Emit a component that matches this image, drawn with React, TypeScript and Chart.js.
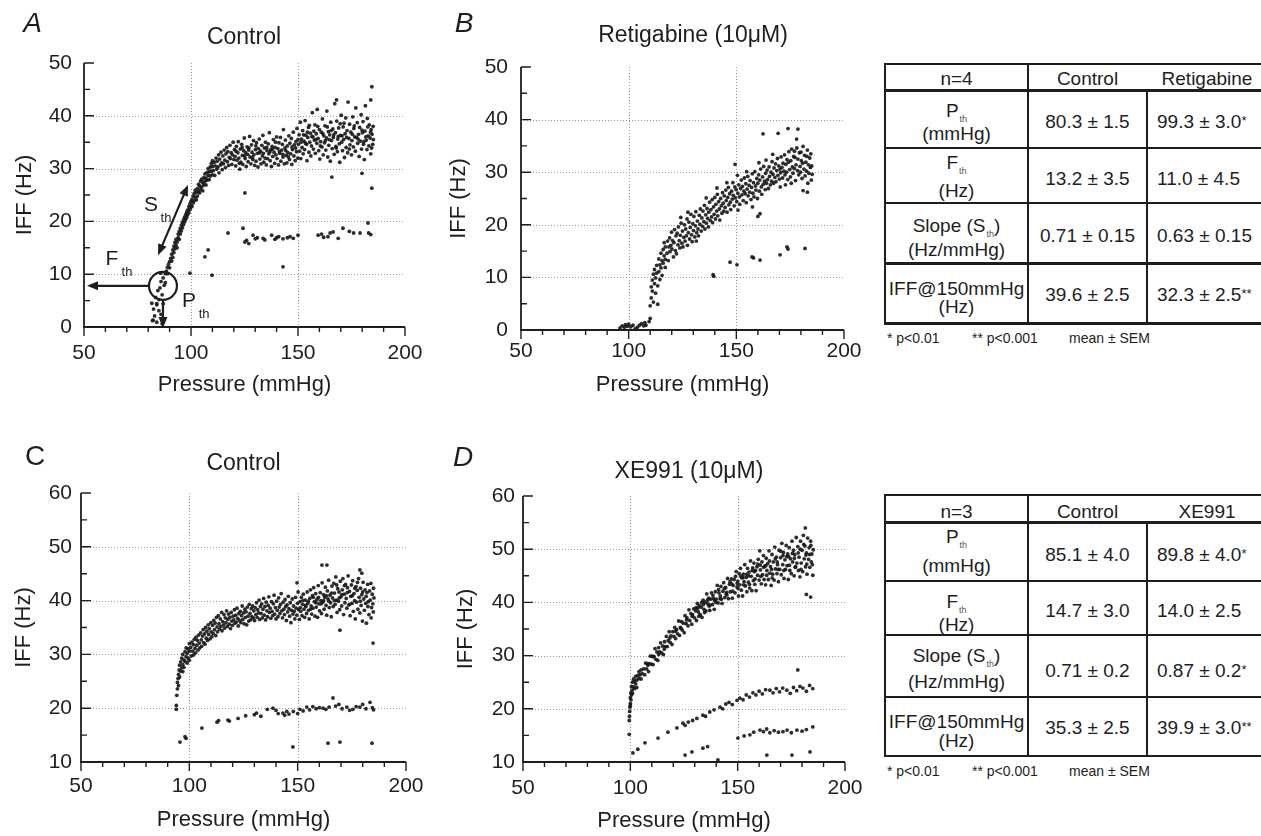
import React, { useEffect, useRef } from "react";
import { Chart, registerables } from "chart.js";

Chart.register(...registerables);

type Pt = [number, number];

const FONT = '"Liberation Sans", Arial, Helvetica, sans-serif';
const INK = "#1e1e1e";
Chart.defaults.font.family = FONT;
Chart.defaults.color = INK;

// ---------- axis tick values ----------
const X_TICKS = [50, 60, 70, 80, 90, 100, 110, 120, 130, 140, 150, 160, 170, 180, 190, 200];
const X_MAJOR = [50, 100, 150, 200];
const X_GRID = [100, 150];
const Y_TICKS_AB = [0, 5, 10, 15, 20, 25, 30, 35, 40, 45, 50];
const Y_GRID_AB = [10, 20, 30, 40];
const Y_TICKS_CD = [10, 15, 20, 25, 30, 35, 40, 45, 50, 55, 60];
const Y_GRID_CD = [20, 30, 40, 50];

// ---------- Panel A : Control ----------
const aOnset: Pt[] = [
  [82, 1.2], [82.5, 3.4], [83, 2.1], [83.5, 5.6], [84, 0.9], [84, 4.2], [84.5, 6.9], [85, 3.1], [85, 5.2], [85.5, 7.4],
  [86, 2.4], [86, 8.6], [86.5, 6.1], [87, 9.3], [87, 4.4], [87.5, 7.9], [88, 10.1], [88, 8.4], [86.5, 0.6], [85.8, 10.2],
  [81.7, 4.5], [84, 4.4], [82.3, 1.3],
];
const aRamp: Pt[] = [
  [88.5, 10.6], [89, 11.3], [89, 10.1], [89.5, 11.9], [90, 12.4], [90, 11.2], [90.5, 13.0], [91, 12.5], [91, 13.8], [91.5, 13.2],
  [91.5, 14.6], [92, 14.1], [92, 15.3], [92.5, 14.8], [92.5, 16.0], [93, 15.5], [93, 16.6], [93.5, 16.1], [93.5, 15.0], [94, 16.9],
  [94, 17.6], [94.5, 16.6], [94.5, 18.1], [95, 17.6], [95, 18.7], [95.5, 18.2], [95.5, 19.3], [96, 18.8], [96, 19.8], [96.5, 19.4],
  [96.5, 20.3], [97, 19.9], [97, 20.8], [97.5, 20.4], [97.5, 21.3], [98, 20.8], [98, 21.8], [98.5, 21.3], [98.5, 22.2], [99, 21.7],
  [99, 22.8], [99.5, 22.3], [99.5, 23.3], [100, 22.7], [100, 23.8],
  [100.5, 22.9], [100.5, 24.2], [101, 23.5], [101, 24.8], [101.5, 23.9], [101.5, 25.3], [102, 24.6], [102, 25.9], [102.5, 24.1],
  [102.5, 25.5], [103, 26.2], [103, 24.8], [103.5, 25.6], [103.5, 27.0], [104, 25.4], [104, 26.7], [104.5, 26.0], [104.5, 27.6],
  [105, 26.5], [105, 28.0], [105.5, 25.8], [105.5, 27.3], [106, 28.3], [106, 26.9], [106.5, 27.6], [106.5, 29.0], [107, 28.2],
  [107, 26.9], [107.5, 29.3], [107.5, 27.8], [108, 28.7], [108, 30.0], [108.5, 27.9], [108.5, 29.4], [109, 30.3], [109, 28.6],
  [109.5, 29.5], [109.5, 31.0], [110, 28.8], [110, 30.4], [110, 31.5],
];
const aPlateau: Pt[] = [
  [110.4, 29.6], [110.8, 31.2], [111.1, 28.7], [111.3, 30.5], [111.7, 32.0], [112.0, 29.9], [112.2, 31.4], [112.6, 30.3],
  [112.9, 32.6], [113.1, 29.2], [113.4, 31.8], [113.8, 30.7], [114.0, 33.1], [114.3, 31.1], [114.6, 29.8], [114.9, 32.4],
  [115.2, 30.9], [115.5, 33.5], [115.8, 31.6], [116.1, 30.2], [116.3, 32.8], [116.7, 34.0], [117.0, 31.3], [117.2, 33.2],
  [117.6, 30.6], [117.9, 32.1], [118.2, 34.4], [118.4, 31.9], [118.8, 33.0], [119.1, 30.8], [119.3, 32.6], [119.7, 35.0],
  [120.0, 31.7], [120.3, 33.6], [120.6, 32.3], [120.9, 30.5], [121.2, 34.2], [121.5, 31.6], [121.9, 33.0], [122.1, 35.1],
  [122.4, 32.0], [122.8, 29.9], [123.0, 33.7], [123.3, 31.2], [123.7, 34.6], [124.0, 32.5], [124.2, 30.8], [124.6, 33.4],
  [124.9, 35.8], [125.3, 31.9], [125.5, 33.0], [125.8, 30.4], [126.2, 34.1], [126.5, 32.7], [126.7, 31.3], [127.1, 33.9],
  [127.4, 36.1], [127.6, 32.2], [128.0, 30.9], [128.3, 34.5], [128.5, 33.1], [128.9, 31.7], [129.2, 35.3], [129.4, 32.6],
  [129.8, 30.6], [130.1, 33.6], [130.4, 31.4], [130.6, 34.9], [131.0, 32.9], [131.3, 30.3], [131.5, 33.8], [131.9, 35.6],
  [132.2, 31.8], [132.5, 33.3], [132.7, 30.9], [133.1, 34.4], [133.4, 32.4], [133.6, 36.3], [134.0, 31.2], [134.3, 33.9],
  [134.6, 32.0], [134.8, 35.0], [135.2, 30.7], [135.5, 33.4], [135.7, 31.9], [136.1, 34.7], [136.4, 32.8], [136.6, 36.8],
  [137.0, 31.5], [137.3, 33.6], [137.6, 30.4], [137.9, 34.2], [138.2, 32.3], [138.5, 35.5], [138.8, 33.1], [139.1, 31.0],
  [139.3, 34.0], [139.7, 32.6], [140.0, 36.0], [140.2, 31.9], [140.6, 33.8], [140.9, 30.7], [141.1, 34.9], [141.5, 32.9],
  [141.8, 35.9], [142.0, 31.4], [142.4, 33.5], [142.7, 34.6], [143.0, 32.2], [143.2, 37.4], [143.6, 30.9], [143.9, 33.9],
  [144.1, 35.4], [144.5, 32.5], [144.8, 31.1], [145.0, 34.3], [145.3, 33.0], [145.7, 36.2], [146.0, 31.7], [146.2, 34.8],
  [146.6, 32.8], [146.9, 35.7], [147.1, 30.8], [147.4, 33.6], [147.8, 36.9], [148.1, 32.4], [148.3, 34.5], [148.7, 31.5],
  [149.0, 35.1], [149.3, 33.2], [149.5, 37.6], [149.9, 32.0], [150.2, 34.6], [150.5, 36.4], [150.8, 33.3], [151.1, 38.8],
  [121.0, 33.3], [122.6, 31.0], [123.9, 34.0], [125.1, 32.4], [126.9, 33.5], [128.7, 32.1], [130.3, 34.3], [132.0, 33.0],
  [133.8, 32.9], [135.4, 34.0], [136.9, 33.2], [138.0, 33.7], [139.5, 35.0], [141.3, 33.2], [142.9, 32.7], [144.3, 33.4],
  [145.5, 32.2], [147.2, 34.1], [148.9, 33.9], [150.0, 35.5],
  [151.3, 31.9], [151.6, 35.6], [151.9, 34.0], [152.2, 37.2], [152.4, 32.8], [152.8, 35.2], [153.1, 33.6], [153.3, 39.1],
  [153.7, 36.3], [154.0, 34.6], [154.2, 31.5], [154.6, 35.9], [154.9, 37.8], [155.1, 33.1], [155.5, 35.0], [155.8, 36.7],
  [156.0, 32.4], [156.3, 34.3], [156.7, 40.6], [157.0, 36.0], [157.2, 33.7], [157.6, 35.4], [157.9, 38.3], [158.1, 32.9],
  [158.5, 36.6], [158.8, 34.8], [159.0, 41.2], [159.4, 35.7], [159.7, 33.4], [160.0, 37.4], [160.2, 31.8], [160.6, 35.1],
  [160.9, 36.9], [161.2, 34.1], [161.4, 39.4], [161.8, 32.6], [162.1, 36.2], [162.4, 34.9], [162.6, 38.1], [163.0, 33.5],
  [163.3, 35.8], [163.5, 40.9], [163.9, 32.2], [164.2, 37.0], [164.4, 34.4], [164.8, 36.4], [165.1, 31.4], [165.3, 38.8],
  [165.7, 35.3], [166.0, 33.8], [166.3, 37.5], [166.5, 35.9], [166.9, 32.7], [167.2, 42.3], [167.5, 36.8], [167.7, 34.2],
  [168.1, 39.0], [168.4, 33.2], [168.6, 35.6], [169.0, 37.7], [169.3, 34.7], [169.5, 31.2], [169.9, 36.3], [170.2, 40.1],
  [170.4, 35.0], [170.8, 33.4], [171.1, 37.9], [171.3, 35.5], [171.7, 32.1], [172.0, 36.6], [172.3, 39.6], [172.5, 34.0],
  [172.9, 37.2], [173.2, 33.0], [173.4, 42.6], [173.8, 35.7], [174.1, 38.4], [174.3, 34.5], [174.7, 36.9], [175.0, 32.6],
  [175.2, 35.3], [175.6, 39.8], [175.9, 34.1], [176.1, 37.6], [176.5, 36.0], [176.8, 33.3], [177.0, 41.5], [177.4, 35.9],
  [177.7, 38.7], [177.9, 34.8], [178.3, 36.5], [178.6, 32.3], [178.8, 37.8], [179.2, 35.2], [179.5, 40.2], [179.7, 33.7],
  [180.1, 36.8], [180.4, 38.9], [180.6, 34.6], [181.0, 31.7], [181.3, 37.1], [181.5, 41.9], [181.9, 35.4], [182.2, 33.6],
  [182.4, 39.5], [182.8, 36.2], [183.1, 34.3], [183.3, 38.3], [183.7, 35.8], [184.0, 32.8], [184.2, 37.4], [184.6, 36.5],
  [184.9, 34.6], [185.1, 38.0], [185.2, 35.5], [184.4, 33.9], [183.9, 36.9], [182.6, 37.9], [181.7, 36.0], [180.8, 35.1],
  [179.9, 37.3], [178.1, 35.6], [176.3, 38.1], [175.4, 36.5], [174.0, 33.7], [172.7, 35.9], [171.5, 38.6], [170.6, 36.2],
  [169.7, 38.5], [168.8, 36.1], [167.9, 33.9], [166.7, 36.4], [165.5, 37.2], [164.6, 35.5], [163.7, 37.9], [162.8, 35.3],
  [161.6, 36.6], [160.4, 34.3], [159.2, 38.0], [158.3, 35.5], [157.4, 37.1], [156.5, 36.1], [155.3, 38.2], [154.4, 36.9],
  [153.5, 34.8], [152.6, 36.4], [151.4, 35.0],
];
const aLowBand: Pt[] = [
  [117.3, 17.8], [124.3, 18.7], [125.2, 16.1], [126, 16.4], [127, 15.8], [129, 17.4], [130, 16.7], [131, 16.9], [133.7, 16.8],
  [134.5, 16.5], [137.7, 17.4], [139.2, 16.6], [140, 16.9], [141, 17.1], [143, 16.7], [145, 16.9], [146.3, 17.1], [147.8, 16.8],
  [150, 17.4], [159.4, 17.4], [161, 17.6], [162, 17.0], [164, 17.1], [165, 17.8], [166.4, 18.0], [168.8, 16.8], [171, 18.7],
  [174, 18.1], [176, 17.8], [179, 17.8], [183, 17.8], [182.7, 19.7], [184, 17.5],
];
const aOutliers: Pt[] = [
  [106.5, 13.3], [108, 14.6], [109.8, 9.8], [99.5, 10.2], [125.2, 25.4], [143, 11.4], [184.5, 26.3], [165.8, 28.4],
  [179.9, 29.1], [184.5, 45.5], [184, 43.0], [168, 43.0],
];

// annotation anchors of panel A (data units)
const A_CIRCLE: Pt = [86.9, 7.8];
const A_S_ARROW: [Pt, Pt] = [[84.6, 13.6], [98.6, 26.9]];
const A_S_LABEL: Pt = [81.3, 23.0];
const A_F_LABEL: Pt = [63.1, 12.8];
const A_P_LABEL: Pt = [99.1, 4.8];

// ---------- Panel B : Retigabine ----------
const bNearZero: Pt[] = [
  [96, 0.4], [97, 0.8], [98, 0.5], [98.5, 1.0], [99.5, 0.7], [100, 1.1], [101, 0.6], [102, 0.9], [103, 0.2], [104, 0.5],
  [105, 0.9], [106, 1.2], [107, 0.8], [107.5, 1.4], [108, 0.9], [110, 2.2], [109.5, 1.6],
];
const bRise: Pt[] = [
  [110, 4.6], [110.5, 8.2], [110.5, 6.1], [111, 9.5], [111, 7.4], [111.5, 10.6], [111.5, 5.3], [112, 8.8], [112, 11.5],
  [112.5, 7.0], [112.5, 9.9], [113, 10.8], [113, 12.3], [113.5, 8.4], [113.5, 4.9], [114, 11.1], [114, 13.5], [114.5, 9.6],
  [114.5, 12.4], [115, 14.6], [115, 11.8], [115.5, 13.2], [115.5, 10.4], [116, 15.3], [116, 12.7], [116.5, 14.1], [116.5, 16.6],
  [117, 13.4], [117, 15.8], [117, 11.9],
];
const bCloud: Pt[] = [
  [117.8, 14.6], [118.1, 16.9], [118.4, 13.2], [118.7, 15.8], [119.0, 17.5], [119.2, 14.9], [119.6, 16.1], [119.9, 18.6],
  [120.1, 15.4], [120.4, 17.0], [120.8, 13.9], [121.0, 16.6], [121.3, 19.1], [121.7, 15.1], [122.0, 17.9], [122.2, 14.5],
  [122.5, 18.4], [122.9, 16.2], [123.1, 19.6], [123.5, 17.0], [123.8, 15.6], [124.0, 18.0], [124.4, 20.3], [124.7, 16.5],
  [125.0, 18.8], [125.2, 15.8], [125.6, 17.6], [125.9, 20.0], [126.2, 16.9], [126.5, 19.2], [126.8, 17.9], [127.1, 21.1],
  [127.3, 16.1], [127.7, 18.5], [128.0, 20.5], [128.3, 17.3], [128.6, 19.5], [128.9, 22.0], [129.2, 18.1], [129.5, 16.8],
  [129.8, 20.2], [130.1, 18.9], [130.3, 21.6], [130.7, 17.7], [131.0, 19.8], [131.2, 22.5], [131.6, 18.5], [131.9, 20.7],
  [132.2, 19.2], [132.4, 17.9], [132.8, 21.8], [133.1, 20.1], [133.3, 23.0], [133.7, 18.8], [134.0, 21.3], [134.3, 19.7],
  [134.5, 22.6], [134.9, 20.6], [135.2, 23.7], [135.4, 19.2], [135.8, 21.9], [136.1, 20.3], [136.4, 23.1], [136.7, 21.2],
  [137.0, 19.6], [137.2, 22.4], [137.6, 24.3], [137.9, 20.8], [138.2, 22.9], [138.5, 21.5], [138.8, 24.8], [139.0, 20.4],
  [139.4, 23.4], [139.7, 22.0], [140.0, 25.2], [140.3, 21.1], [140.5, 23.9], [140.9, 22.6], [141.2, 25.8], [141.4, 21.7],
  [141.8, 24.4], [142.1, 23.0], [142.3, 20.9], [142.7, 25.0], [143.0, 23.6], [143.3, 22.2], [143.6, 26.1], [143.9, 24.1],
  [144.2, 22.6], [144.4, 25.5], [144.8, 23.3], [145.1, 26.6], [145.3, 24.6], [145.7, 22.4], [146.0, 25.2], [146.3, 27.1],
  [146.5, 23.8], [146.9, 25.9], [147.2, 24.3], [147.4, 22.9], [147.8, 26.4], [148.1, 24.9], [148.4, 28.0], [148.6, 25.6],
  [149.0, 23.6], [149.3, 27.2], [149.5, 25.1], [149.9, 26.7], [150.2, 24.4], [150.5, 29.4], [150.7, 26.0], [151.1, 27.6],
  [151.4, 25.3], [151.6, 23.9], [152.0, 26.9], [152.3, 28.5], [152.6, 25.7], [152.8, 27.3], [153.2, 24.6], [153.5, 26.4],
  [153.7, 28.9], [154.1, 25.9], [154.4, 27.8], [154.6, 24.2], [155.0, 26.8], [155.3, 29.2], [155.5, 25.5], [155.9, 27.5],
  [156.2, 26.2], [156.4, 28.4], [156.8, 24.8], [157.1, 27.1], [157.4, 29.7], [157.7, 26.0], [158.0, 28.0], [158.2, 25.3],
  [158.6, 30.1], [158.9, 27.4], [159.1, 26.6], [159.5, 28.8], [159.8, 25.0], [160.0, 27.9], [160.4, 29.5], [160.7, 26.4],
  [160.9, 28.5], [161.3, 30.6], [161.6, 27.2], [161.8, 25.8], [162.2, 29.1], [162.5, 27.7], [162.7, 31.1], [163.1, 28.3],
  [163.4, 26.7], [163.6, 29.8], [164.0, 27.9], [164.3, 30.4], [164.5, 28.6], [164.9, 26.9], [165.2, 31.0], [165.4, 29.2],
  [165.8, 27.6], [166.1, 30.0], [166.4, 28.3], [166.6, 32.0], [167.0, 29.6], [167.3, 27.9], [167.5, 30.8], [167.9, 29.0],
  [168.2, 31.6], [168.4, 28.2], [168.8, 30.3], [169.1, 32.6], [169.3, 29.4], [169.7, 31.2], [170.0, 28.7], [170.3, 30.6],
  [170.6, 29.9], [170.8, 32.9], [171.2, 30.9], [171.5, 28.9], [171.7, 31.7], [172.1, 30.2], [172.4, 33.3], [172.6, 29.5],
  [173.0, 31.5], [173.3, 30.0], [173.5, 32.4], [173.9, 28.6], [174.2, 31.9], [174.4, 33.9], [174.8, 30.5], [175.1, 29.1],
  [175.3, 32.2], [175.7, 34.4], [176.0, 31.0], [176.3, 29.8], [176.6, 33.0], [176.9, 30.7], [177.2, 32.8], [177.5, 28.4],
  [177.7, 31.4], [178.1, 34.6], [178.4, 30.3], [178.6, 32.5], [179.0, 29.5], [179.3, 33.7], [179.6, 31.1], [179.8, 30.0],
  [180.2, 32.2], [180.5, 28.8], [180.8, 31.7], [181.0, 34.9], [181.4, 30.6], [181.7, 33.2], [181.9, 29.3], [182.3, 31.9],
  [182.6, 30.2], [182.8, 33.0], [183.2, 27.9], [183.5, 31.4], [183.7, 29.8], [184.1, 32.7], [184.4, 30.9], [184.6, 33.5],
  [185.0, 31.2], [185.2, 29.6], [184.8, 28.5], [183.0, 34.2], [180.0, 33.8], [177.0, 34.0], [175.5, 27.9], [172.8, 27.6],
  [170.4, 27.2], [166.9, 33.4], [163.8, 32.3], [160.5, 31.8], [157.5, 23.4], [154.8, 30.1], [150.8, 22.8], [145.6, 28.0],
  [141.0, 27.0], [136.0, 25.1], [131.4, 16.9], [127.5, 22.4], [124.2, 21.4],
];
const bOutliers: Pt[] = [
  [139.2, 10.5], [139.5, 10.2], [147.1, 12.9], [150.3, 12.4], [157.3, 13.9], [158, 13.7], [161, 13.3], [170.3, 14.3],
  [173.5, 15.8], [174, 15.4], [181.9, 15.5], [162.4, 37.3], [169.4, 37.4], [174, 38.3], [178.6, 38.2], [178, 36.3],
  [149.4, 31.5], [161, 22.1], [160, 21.6], [183, 26.2], [181, 26.5],
];

// ---------- Panel C : Control ----------
const cOnset: Pt[] = [
  [94, 19.8], [94, 20.5], [94.2, 22.4], [94.5, 23.6], [94.5, 24.8], [94.8, 25.5], [95, 26.3], [95, 24.2], [95.3, 27.1],
  [95.5, 25.8], [95.5, 28.0], [96, 26.9], [96, 28.6], [96.5, 27.5], [96.5, 29.3], [97, 28.1], [97, 30.0], [97, 26.8],
  [97.5, 29.0], [97.5, 27.6], [98, 30.5], [98, 28.7], [98.5, 29.6], [98.5, 31.2], [99, 30.2], [99, 28.4], [99.5, 31.0],
  [99.5, 29.3], [100, 30.6], [100, 32.0], [100, 28.9],
];
const cCloud: Pt[] = [
  [100.6, 31.3], [100.9, 29.7], [101.2, 32.3], [101.5, 30.6], [101.8, 31.8], [102.0, 29.9], [102.3, 32.8], [102.6, 31.1],
  [102.9, 30.3], [103.1, 33.2], [103.4, 31.7], [103.7, 32.6], [104.0, 30.8], [104.3, 33.6], [104.6, 32.1], [104.8, 31.2],
  [105.2, 34.0], [105.5, 32.7], [105.7, 31.5], [106.1, 33.4], [106.4, 34.6], [106.6, 32.2], [107.0, 33.8], [107.2, 31.9],
  [107.5, 35.0], [107.8, 33.0], [108.1, 34.3], [108.4, 32.6], [108.7, 35.5], [108.9, 33.7], [109.2, 34.8], [109.6, 32.9],
  [109.9, 35.9], [110.1, 34.2], [110.4, 33.3],
  [110.7, 35.4], [111.0, 33.9], [111.3, 36.3], [111.6, 34.6], [111.9, 35.8], [112.2, 33.5], [112.5, 36.9], [112.8, 35.1],
  [113.0, 34.2], [113.4, 37.2], [113.7, 35.7], [113.9, 34.7], [114.3, 36.6], [114.6, 35.2], [114.9, 37.8], [115.1, 34.4],
  [115.4, 36.1], [115.8, 35.5], [116.0, 37.4], [116.3, 34.9], [116.6, 36.8], [116.9, 35.9], [117.2, 38.1], [117.5, 35.2],
  [117.8, 36.5], [118.1, 37.5], [118.4, 35.6], [118.7, 36.9], [119.0, 34.8], [119.3, 37.8], [119.6, 36.2], [119.9, 35.4],
  [120.2, 37.1], [120.5, 36.4], [120.8, 38.3], [121.1, 35.8], [121.4, 37.3], [121.7, 36.0], [122.0, 38.6], [122.3, 36.7],
  [122.6, 35.3], [122.9, 37.6], [123.2, 36.3], [123.5, 38.0], [123.8, 35.9], [124.1, 37.2], [124.4, 39.0], [124.7, 36.5],
  [125.0, 37.7], [125.3, 35.7], [125.6, 38.4], [125.9, 36.9], [126.2, 37.9], [126.5, 35.5], [126.8, 38.8], [127.1, 37.1],
  [127.4, 36.2], [127.7, 39.3], [128.0, 37.6], [128.3, 36.4], [128.6, 38.5], [128.9, 37.0], [129.2, 39.0], [129.5, 36.8],
  [129.8, 38.1],
  [130.1, 36.3], [130.4, 38.7], [130.7, 37.4], [131.0, 39.6], [131.3, 36.9], [131.6, 38.3], [131.9, 37.7], [132.2, 40.1],
  [132.5, 36.5], [132.8, 38.9], [133.1, 37.6], [133.4, 39.4], [133.7, 36.8], [134.0, 38.4], [134.3, 40.4], [134.6, 37.3],
  [134.9, 38.9], [135.2, 36.4], [135.5, 39.7], [135.8, 38.1], [136.1, 37.0], [136.4, 39.1], [136.7, 40.7], [137.0, 37.8],
  [137.3, 38.6], [137.6, 36.7], [137.9, 39.8], [138.2, 38.0], [138.5, 37.2], [138.8, 39.4], [139.1, 41.0], [139.4, 37.5],
  [139.7, 38.7], [140.0, 36.6], [140.3, 39.9], [140.6, 38.2], [140.9, 37.0], [141.2, 40.5], [141.5, 38.8], [141.8, 37.6],
  [142.1, 39.3], [142.4, 41.3], [142.7, 38.1], [143.0, 36.8], [143.3, 39.7], [143.6, 38.4], [143.9, 37.4], [144.2, 40.2],
  [144.5, 38.9], [144.8, 36.3], [145.1, 39.2], [145.4, 37.9], [145.7, 40.8], [146.0, 38.5], [146.3, 37.1], [146.6, 39.6],
  [146.9, 35.9], [147.2, 38.2], [147.5, 40.3], [147.8, 37.5], [148.1, 39.0], [148.4, 38.0], [148.7, 36.6], [149.0, 40.6],
  [149.3, 38.6], [149.6, 37.3], [149.9, 39.5], [150.2, 41.6], [150.5, 38.3],
  [150.8, 36.5], [151.1, 39.8], [151.4, 38.0], [151.7, 40.6], [152.0, 37.2], [152.3, 39.3], [152.6, 41.2], [152.9, 38.4],
  [153.2, 36.9], [153.5, 40.1], [153.8, 38.9], [154.1, 37.6], [154.4, 41.6], [154.7, 39.5], [155.0, 38.2], [155.3, 36.6],
  [155.6, 40.4], [155.9, 42.0], [156.2, 39.0], [156.5, 37.5], [156.8, 40.9], [157.1, 38.6], [157.4, 42.4], [157.7, 39.8],
  [158.0, 37.1], [158.3, 41.3], [158.6, 38.8], [158.9, 40.2], [159.2, 36.9], [159.5, 42.8], [159.8, 39.4], [160.1, 38.1],
  [160.4, 41.5], [160.7, 40.0], [161.0, 37.6], [161.3, 43.3], [161.6, 39.7], [161.9, 41.1], [162.2, 38.4], [162.5, 40.6],
  [162.8, 42.5], [163.1, 39.1], [163.4, 37.3], [163.7, 41.8], [164.0, 40.3], [164.3, 43.8], [164.6, 38.7], [164.9, 41.0],
  [165.2, 39.6], [165.5, 37.0], [165.8, 42.7], [166.1, 40.5], [166.4, 38.9], [166.7, 43.2], [167.0, 41.4], [167.3, 39.3],
  [167.6, 44.4], [167.9, 40.1], [168.2, 37.8], [168.5, 42.2], [168.8, 39.9], [169.1, 41.6], [169.4, 38.3], [169.7, 43.6],
  [170.0, 40.7], [170.3, 39.0], [170.6, 42.0], [170.9, 44.1], [171.2, 37.4], [171.5, 41.2], [171.8, 39.6], [172.1, 43.0],
  [172.4, 40.4], [172.7, 38.6], [173.0, 42.4], [173.3, 44.6], [173.6, 39.2], [173.9, 41.7], [174.2, 37.2], [174.5, 40.8],
  [174.8, 42.9], [175.1, 39.5], [175.4, 43.7], [175.7, 38.0], [176.0, 41.3], [176.3, 40.0], [176.6, 36.6], [176.9, 42.6],
  [177.2, 39.7], [177.5, 41.9], [177.8, 38.4], [178.1, 44.1], [178.4, 40.6], [178.7, 37.7], [179.0, 42.3], [179.3, 39.1],
  [179.6, 41.1], [179.9, 36.2], [180.2, 43.4], [180.5, 40.3], [180.8, 38.2], [181.1, 42.0], [181.4, 39.5], [181.7, 35.8],
  [182.0, 41.5], [182.3, 43.0], [182.6, 39.8], [182.9, 37.4], [183.2, 41.8], [183.5, 40.1], [183.8, 43.2], [184.1, 38.7],
  [184.4, 41.2], [184.7, 39.4], [185.0, 42.3], [185.2, 40.5], [184.9, 37.9], [183.9, 36.8], [182.4, 38.9], [181.6, 40.8],
  [180.0, 41.6], [178.9, 39.9], [177.6, 43.4], [176.4, 42.3], [175.2, 40.9], [174.0, 39.3], [172.9, 41.5], [171.6, 42.8],
  [170.4, 41.1], [169.2, 40.5], [168.0, 42.9], [166.9, 40.0], [165.6, 41.4], [164.4, 39.9], [163.2, 40.9], [162.0, 40.0],
  [160.9, 39.4], [159.6, 40.6], [158.4, 39.6], [157.2, 40.6], [156.0, 38.4], [154.9, 39.9], [153.6, 39.1], [152.4, 40.0],
  [151.2, 38.7],
];
const cLowBand: Pt[] = [
  [95.7, 13.7], [98, 14.7], [98.5, 14.4], [105.8, 16.3], [112.8, 17.4], [113.5, 17.7], [117.8, 17.8], [118.5, 17.6],
  [122.5, 18.1], [126, 18.6], [130, 18.8], [131, 19.1], [133, 18.5], [136, 19.8], [138.6, 20.0], [140, 19.6], [141, 19.0],
  [143.2, 19.1], [144, 18.7], [145, 19.4], [146, 18.9], [148, 19.4], [150, 19.0], [151, 19.8], [152.5, 19.5], [154.2, 20.2],
  [155.5, 19.7], [157, 20.3], [158.5, 19.9], [160, 20.1], [161.7, 20.0], [163, 19.8], [164.5, 20.2], [166.3, 21.9],
  [167.5, 20.4], [169, 20.7], [170.5, 19.9], [172.7, 20.2], [174, 19.6], [175.5, 19.8], [177, 20.3], [178.7, 20.2],
  [180, 20.7], [181.5, 19.9], [183.4, 21.1], [184.5, 20.1], [185, 19.7],
];
const cOutliers: Pt[] = [
  [147.8, 12.8], [164, 13.5], [169.5, 13.7], [184.3, 13.5], [184.8, 32.1], [169.5, 34.5], [161.2, 46.6], [163.5, 46.6],
  [178.7, 45.7], [179.6, 45.1], [149.7, 43.3],
];

// ---------- Panel D : XE991 ----------
const dOnset: Pt[] = [
  [99.5, 15.2], [99.5, 17.8], [99.6, 18.6], [99.7, 19.5], [99.8, 20.3], [100, 21.0], [100, 22.1], [100, 20.6], [100.2, 23.0],
  [100.3, 21.7], [100.5, 24.2], [100.5, 22.6], [100.8, 23.5], [101, 25.0], [101, 22.9], [101.5, 24.1], [101.5, 25.6],
  [102, 23.8], [102, 25.2], [102.5, 24.7], [102.5, 26.1], [103, 25.4], [103, 24.0], [103.5, 26.3], [104, 25.7], [104, 27.0],
  [104.5, 26.4], [105, 25.6], [105, 27.3], [105.5, 26.6],
];
const dCloud: Pt[] = [
  [106.2, 27.5], [106.7, 26.4], [107.1, 28.6], [107.6, 27.5], [108.0, 28.5], [108.5, 27.0], [108.9, 28.5], [109.3, 29.9],
  [109.8, 28.4], [110.2, 29.9], [110.6, 28.3], [111.1, 29.8], [111.5, 31.3], [111.9, 29.3], [112.4, 30.7], [112.8, 29.1],
  [113.2, 31.5], [113.7, 30.7], [114.1, 32.4], [114.6, 30.5], [115.0, 31.8], [115.4, 30.2], [115.9, 32.6], [116.3, 31.7],
  [116.8, 33.6], [117.2, 31.7], [117.6, 32.8], [118.1, 34.5], [118.5, 32.5], [118.9, 33.7], [119.4, 32.1], [119.8, 34.5],
  [120.3, 33.6], [120.7, 35.3], [121.1, 33.2], [121.6, 34.9], [122.0, 34.1], [122.5, 36.5], [122.9, 33.8], [123.3, 35.3],
  [123.8, 36.4], [124.2, 34.8], [124.7, 36.1], [125.1, 34.3], [125.5, 37.5], [126.0, 36.0], [126.4, 37.1], [126.9, 35.6],
  [127.3, 38.6], [127.7, 36.6], [128.2, 37.9], [128.6, 35.9], [129.0, 37.7], [129.5, 38.8], [129.9, 37.1], [130.4, 38.4],
  [130.8, 36.6], [131.2, 39.8], [131.7, 38.2], [132.1, 39.4], [132.6, 37.7], [133.0, 39.1], [133.4, 37.2], [133.9, 40.4],
  [134.3, 38.7], [134.8, 40.0], [135.2, 38.4], [135.6, 41.6], [136.1, 39.7], [136.5, 40.8], [137.0, 38.5], [137.4, 40.6],
  [137.8, 41.8], [138.3, 39.6], [138.7, 40.7], [139.1, 38.7], [139.6, 42.0], [140.0, 40.6], [140.5, 43.2], [140.9, 39.9],
  [141.3, 41.8], [141.8, 40.7], [142.2, 43.0], [142.7, 39.8], [143.1, 42.1], [143.5, 43.7], [144.0, 40.9], [144.4, 42.8],
  [144.9, 41.9], [145.3, 44.5], [145.7, 40.7], [146.2, 43.4], [146.6, 42.0], [147.1, 44.4], [147.5, 40.8], [147.9, 43.2],
  [148.4, 44.3], [148.8, 41.8], [149.3, 45.8], [149.7, 42.9], [150.1, 44.0],
  [150.4, 41.2], [150.7, 45.4], [151.0, 43.3], [151.3, 46.4], [151.7, 42.3], [152.0, 44.6], [152.3, 41.2], [152.6, 45.3],
  [153.0, 43.9], [153.3, 47.1], [153.6, 43.1], [154.0, 44.7], [154.3, 42.0], [154.6, 46.4], [155.0, 43.8], [155.3, 45.7],
  [155.6, 42.7], [156.0, 47.8], [156.3, 44.9], [156.6, 42.2], [157.0, 46.5], [157.3, 44.1], [157.6, 47.4], [158.0, 43.4],
  [158.3, 46.0], [158.6, 42.2], [159.0, 46.7], [159.3, 45.1], [159.6, 48.1], [160.0, 44.2], [160.3, 49.7], [160.6, 46.1],
  [161.0, 43.5], [161.3, 47.6], [161.6, 45.2], [162.0, 48.8], [162.3, 44.3], [162.6, 46.8], [163.0, 43.3], [163.3, 48.3],
  [163.6, 46.0], [164.0, 47.3], [164.3, 44.3], [164.6, 49.7], [165.0, 45.5], [165.3, 46.7], [165.6, 43.2], [166.0, 49.0],
  [166.3, 45.3], [166.6, 47.6], [167.0, 44.2], [167.3, 50.4], [167.6, 46.3], [168.0, 48.5], [168.3, 45.4], [168.6, 47.1],
  [169.0, 43.9], [169.3, 49.8], [169.6, 46.2], [170.0, 48.4], [170.3, 45.2], [170.6, 51.1], [171.0, 47.1], [171.3, 49.4],
  [171.6, 44.5], [172.0, 48.0], [172.3, 46.2], [172.6, 50.7], [173.0, 46.9], [173.3, 49.1], [173.6, 44.3], [174.0, 50.3],
  [174.3, 46.0], [174.6, 48.2], [175.0, 45.4], [175.3, 51.5], [175.6, 47.6], [176.0, 49.8], [176.3, 45.0], [176.6, 49.0],
  [177.0, 46.7], [177.3, 52.2], [177.6, 47.4], [178.0, 50.5], [178.3, 46.0], [178.6, 48.5], [179.0, 44.8], [179.3, 51.5],
  [179.6, 47.4], [180.0, 49.8], [180.3, 45.8], [180.6, 52.6], [181.0, 48.2], [181.3, 50.6], [181.6, 46.7], [182.0, 49.3],
  [182.3, 45.3], [182.6, 52.1], [183.0, 48.1], [183.3, 50.3], [183.6, 46.6], [184.0, 51.5], [184.3, 47.6], [184.6, 49.1],
  [185.0, 45.1], [185.2, 49.9],
  [130.6, 39.0], [131.9, 37.4], [133.2, 40.0], [134.6, 38.1], [135.9, 40.4], [137.2, 39.5], [138.5, 41.3], [139.9, 40.0],
  [141.1, 42.4], [142.4, 40.6], [143.8, 42.6], [145.0, 41.4], [146.4, 43.9], [147.7, 42.1], [149.0, 44.9], [150.2, 42.6],
  [151.5, 44.9], [152.8, 43.3], [154.2, 45.3], [155.5, 43.4], [156.8, 46.0], [158.1, 44.4], [159.4, 47.2], [160.8, 44.9],
  [162.1, 46.6], [163.5, 45.1], [164.8, 47.8], [166.1, 44.6], [167.5, 48.2], [168.8, 46.2], [170.1, 49.6], [171.5, 46.0],
  [172.8, 48.6], [174.1, 47.0], [175.5, 49.2], [176.8, 46.6], [178.2, 49.3], [179.5, 46.2], [180.8, 50.9], [182.2, 47.2],
  [183.5, 49.0], [184.8, 47.1], [184.1, 50.7], [181.8, 48.9], [179.1, 50.0], [176.4, 48.3], [173.8, 48.6], [171.1, 48.8],
  [168.4, 47.6], [165.8, 46.2], [163.1, 46.9], [160.5, 47.0], [157.8, 45.8], [155.1, 45.0], [152.5, 44.7], [149.8, 43.6],
  [147.2, 43.5], [144.6, 41.6], [141.9, 41.2], [139.3, 40.3], [136.7, 39.3], [134.0, 39.6], [131.4, 38.9], [128.8, 37.4],
  [126.2, 36.7], [123.6, 35.1], [121.0, 34.6], [118.4, 33.3], [115.8, 31.2], [113.2, 30.2], [110.6, 29.8], [108.2, 28.2],
  [181.5, 54.0], [182.0, 41.5], [184.0, 41.0],
];
const dBand2: Pt[] = [
  [101.2, 11.7], [103.5, 12.4], [106.8, 13.6], [112.9, 14.5], [117.5, 15.6], [121.7, 16.4], [124.5, 17.3], [125.5, 16.9],
  [127, 17.5], [129, 17.8], [131, 18.2], [133.8, 18.8], [135, 18.6], [137, 19.4], [139, 19.8], [141.8, 20.3], [143, 20.0],
  [144.5, 20.9], [146, 21.2], [147.5, 20.8], [149.7, 21.6], [151, 22.0], [152.5, 21.7], [154, 22.6], [155.5, 22.2],
  [157.1, 23.0], [158.5, 22.6], [160, 23.3], [161.5, 22.8], [163, 23.6], [165, 23.5], [166.5, 23.0], [168, 23.8],
  [169.5, 23.2], [171, 23.9], [172.9, 23.5], [174.5, 22.9], [176, 24.0], [177.5, 23.4], [179, 24.2], [180.4, 23.9],
  [182, 23.3], [183.5, 24.4], [185, 23.8], [178, 27.3],
];
const dBand3: Pt[] = [
  [150.1, 14.5], [153, 14.9], [155.7, 15.1], [157.5, 15.6], [160.4, 16.0], [162, 15.7], [163.5, 16.2], [165, 15.5],
  [167, 15.9], [169, 15.6], [171.1, 15.7], [173, 16.0], [175, 15.5], [177.6, 16.0], [180, 15.8], [182, 16.1], [185, 16.6],
];
const dBottom: Pt[] = [
  [125.5, 11.3], [128.7, 11.9], [133.8, 12.6], [136, 12.9], [140.8, 10.4], [163.6, 11.3], [175.3, 11.3], [183.7, 11.9],
];

// ---------- tables ----------
const T1_HEADER = ["n=4", "Control", "Retigabine"];
const T1_CONTROL = ["80.3 ± 1.5", "13.2 ± 3.5", "0.71 ± 0.15", "39.6 ± 2.5"];
const T1_DRUG = ["99.3 ± 3.0", "11.0 ± 4.5", "0.63 ± 0.15", "32.3 ± 2.5"];
const T1_SIG = ["*", "", "", "**"];
const T2_HEADER = ["n=3", "Control", "XE991"];
const T2_CONTROL = ["85.1 ± 4.0", "14.7 ± 3.0", "0.71 ± 0.2", "35.3 ± 2.5"];
const T2_DRUG = ["89.8 ± 4.0", "14.0 ± 2.5", "0.87 ± 0.2", "39.9 ± 3.0"];
const T2_SIG = ["*", "", "*", "**"];
const FOOTNOTES = ["* p<0.01", "** p<0.001", "mean ± SEM"];

// ---------- chart helpers ----------
type PanelCfg = {
  left: number; top: number; width: number; height: number;
  yMin: number; yMax: number; yTicks: number[]; yGrid: number[];
  padTop: number; padRight: number; yW: number; xH: number;
  xTickPad: number; yTickPad: number; xTitlePad: number; yTitlePad: number;
  series: Pt[][]; annotate?: boolean;
};

function head(ctx: CanvasRenderingContext2D, tx: number, ty: number, dx: number, dy: number) {
  const n = Math.hypot(dx, dy);
  const ux = dx / n, uy = dy / n;
  const len = 11, half = 4.5;
  const bx = tx - ux * len, by = ty - uy * len;
  ctx.beginPath();
  ctx.moveTo(tx, ty);
  ctx.lineTo(bx - uy * half, by + ux * half);
  ctx.lineTo(bx + uy * half, by - ux * half);
  ctx.closePath();
  ctx.fill();
}

function decorPlugin(cfg: PanelCfg) {
  return {
    id: "decor",
    beforeDatasetsDraw(chart: any) {
      const { ctx, chartArea: a } = chart;
      const xs = chart.scales.x, ys = chart.scales.y;
      ctx.save();
      ctx.strokeStyle = "#9a9a9a";
      ctx.lineWidth = 1;
      ctx.setLineDash([1, 2]);
      ctx.beginPath();
      for (const v of X_GRID) {
        const px = Math.round(xs.getPixelForValue(v)) + 0.5;
        ctx.moveTo(px, a.top);
        ctx.lineTo(px, a.bottom);
      }
      for (const v of cfg.yGrid) {
        const py = Math.round(ys.getPixelForValue(v)) + 0.5;
        ctx.moveTo(a.left, py);
        ctx.lineTo(a.right, py);
      }
      ctx.stroke();
      ctx.restore();
    },
    afterDraw(chart: any) {
      const { ctx, chartArea: a } = chart;
      const xs = chart.scales.x, ys = chart.scales.y;
      ctx.save();
      ctx.strokeStyle = INK;
      ctx.fillStyle = INK;
      ctx.lineWidth = 1.8;
      ctx.beginPath();
      ctx.moveTo(a.left, a.top);
      ctx.lineTo(a.left, a.bottom);
      ctx.lineTo(a.right, a.bottom);
      ctx.stroke();
      ctx.lineWidth = 1.4;
      ctx.beginPath();
      for (const v of X_TICKS) {
        const px = xs.getPixelForValue(v);
        const len = X_MAJOR.includes(v) ? 9 : 5;
        ctx.moveTo(px, a.bottom);
        ctx.lineTo(px, a.bottom + len);
      }
      for (const v of cfg.yTicks) {
        const py = ys.getPixelForValue(v);
        const len = v % 10 === 0 ? 10 : 6;
        ctx.moveTo(a.left, py);
        ctx.lineTo(a.left + len, py);
      }
      ctx.stroke();

      if (cfg.annotate) {
        const cx = xs.getPixelForValue(A_CIRCLE[0]);
        const cy = ys.getPixelForValue(A_CIRCLE[1]);
        const r = 14;
        ctx.lineWidth = 2.2;
        ctx.beginPath();
        ctx.arc(cx, cy, r, 0, Math.PI * 2);
        ctx.stroke();
        const fx = xs.getPixelForValue(50) + 3;
        ctx.beginPath();
        ctx.moveTo(cx - r, cy);
        ctx.lineTo(fx + 8, cy);
        ctx.stroke();
        head(ctx, fx, cy, -1, 0);
        const py0 = ys.getPixelForValue(0) + 1;
        ctx.beginPath();
        ctx.moveTo(cx, cy + r);
        ctx.lineTo(cx, py0 - 8);
        ctx.stroke();
        head(ctx, cx, py0, 0, 1);
        const x1 = xs.getPixelForValue(A_S_ARROW[0][0]), y1 = ys.getPixelForValue(A_S_ARROW[0][1]);
        const x2 = xs.getPixelForValue(A_S_ARROW[1][0]), y2 = ys.getPixelForValue(A_S_ARROW[1][1]);
        const dx = x2 - x1, dy = y2 - y1, n = Math.hypot(dx, dy);
        ctx.beginPath();
        ctx.moveTo(x1 + (dx / n) * 8, y1 + (dy / n) * 8);
        ctx.lineTo(x2 - (dx / n) * 8, y2 - (dy / n) * 8);
        ctx.stroke();
        head(ctx, x2, y2, dx, dy);
        head(ctx, x1, y1, -dx, -dy);
        const labels: [string, Pt][] = [["S", A_S_LABEL], ["F", A_F_LABEL], ["P", A_P_LABEL]];
        ctx.textAlign = "center";
        ctx.textBaseline = "middle";
        for (const [t, p] of labels) {
          const lx = xs.getPixelForValue(p[0]), ly = ys.getPixelForValue(p[1]);
          ctx.font = `21px ${FONT}`;
          ctx.fillText(t, lx, ly);
          ctx.font = `13px ${FONT}`;
          ctx.fillText("th", lx + 15, ly + 13);
        }
      }
      ctx.restore();
    },
  };
}

function ScatterPanel({ cfg }: { cfg: PanelCfg }) {
  const ref = useRef<HTMLCanvasElement | null>(null);
  useEffect(() => {
    if (!ref.current) return;
    const chart = new Chart(ref.current, {
      type: "scatter",
      data: {
        datasets: cfg.series.map((pts) => ({
          data: pts.map(([x, y]) => ({ x, y })),
          backgroundColor: "rgba(22,22,22,0.9)",
          borderWidth: 0,
          pointRadius: 1.9,
          pointHoverRadius: 1.9,
        })),
      },
      options: {
        responsive: false,
        animation: false,
        events: [],
        layout: { padding: { left: 0, top: cfg.padTop, right: cfg.padRight, bottom: 0 } },
        plugins: { legend: { display: false }, tooltip: { enabled: false } },
        scales: {
          x: {
            type: "linear",
            min: 50,
            max: 200,
            afterFit: (s: any) => { s.height = cfg.xH; },
            ticks: { stepSize: 50, padding: cfg.xTickPad, color: INK, font: { family: FONT, size: 21 }, maxRotation: 0, autoSkip: false },
            grid: { display: false, drawTicks: false },
            border: { display: false },
            title: { display: true, text: "Pressure (mmHg)", color: INK, font: { family: FONT, size: 22 }, padding: { top: 0, bottom: cfg.xTitlePad } },
          },
          y: {
            type: "linear",
            min: cfg.yMin,
            max: cfg.yMax,
            afterFit: (s: any) => { s.width = cfg.yW; },
            ticks: { stepSize: 10, padding: cfg.yTickPad, color: INK, font: { family: FONT, size: 21 } },
            grid: { display: false, drawTicks: false },
            border: { display: false },
            title: { display: true, text: "IFF (Hz)", color: INK, font: { family: FONT, size: 22 }, padding: { top: cfg.yTitlePad, bottom: 0 } },
          },
        },
      },
      plugins: [decorPlugin(cfg)],
    } as any);
    return () => chart.destroy();
  }, [cfg]);
  return (
    <canvas
      ref={ref}
      width={cfg.width}
      height={cfg.height}
      style={{ position: "absolute", left: cfg.left, top: cfg.top, width: cfg.width, height: cfg.height }}
    />
  );
}

const PANEL_A: PanelCfg = {
  left: 0, top: 0, width: 440, height: 400, yMin: 0, yMax: 50, yTicks: Y_TICKS_AB, yGrid: Y_GRID_AB,
  padTop: 63, padRight: 35, yW: 84, xH: 73, xTickPad: 14, yTickPad: 12, xTitlePad: 2, yTitlePad: 12,
  series: [aOnset, aRamp, aPlateau, aLowBand, aOutliers], annotate: true,
};
const PANEL_B: PanelCfg = {
  left: 437, top: 0, width: 440, height: 400, yMin: 0, yMax: 50, yTicks: Y_TICKS_AB, yGrid: Y_GRID_AB,
  padTop: 67, padRight: 33, yW: 84, xH: 70, xTickPad: 9, yTickPad: 13, xTitlePad: 2, yTitlePad: 9,
  series: [bNearZero, bRise, bCloud, bOutliers],
};
const PANEL_C: PanelCfg = {
  left: 0, top: 420, width: 440, height: 414, yMin: 10, yMax: 60, yTicks: Y_TICKS_CD, yGrid: Y_GRID_CD,
  padTop: 73, padRight: 34, yW: 81, xH: 72, xTickPad: 12, yTickPad: 9, xTitlePad: 1, yTitlePad: 11,
  series: [cOnset, cCloud, cLowBand, cOutliers],
};
const PANEL_D: PanelCfg = {
  left: 439, top: 420, width: 440, height: 414, yMin: 10, yMax: 60, yTicks: Y_TICKS_CD, yGrid: Y_GRID_CD,
  padTop: 76, padRight: 34, yW: 84, xH: 72, xTickPad: 14, yTickPad: 8, xTitlePad: 0, yTitlePad: 14,
  series: [dOnset, dCloud, dBand2, dBand3, dBottom],
};

function Txt({ x, y, size, children, italic, align = "center" }: any) {
  return (
    <div
      style={{
        position: "absolute", left: x, top: y,
        transform: align === "center" ? "translate(-50%,-50%)" : "translate(0,-50%)",
        fontSize: size, lineHeight: 1, fontStyle: italic ? "italic" : "normal",
        whiteSpace: "nowrap", color: INK, fontFamily: FONT,
      }}
    >
      {children}
    </div>
  );
}

const Sub = () => <span style={{ fontSize: 9, position: "relative", top: 5, marginLeft: 1, color: "#555" }}>th</span>;
const Star = ({ s }: { s: string }) => (s ? <span style={{ fontSize: 13, position: "relative", top: -3 }}>{s}</span> : null);

type TableProps = {
  lines: number[]; header: string[]; control: string[]; drug: string[]; sig: string[];
  headerY: number; label1Y: number[]; label2Y: number[]; valueY: number[]; footY: number;
};

function StatTable(p: TableProps) {
  const L = 885, C1 = 1028, C2 = 1147, R = 1275;
  const T = p.lines[0], B = p.lines[p.lines.length - 1];
  const lw = 2.5;
  const rowLabels1 = [<>P<Sub /></>, <>F<Sub /></>, <>Slope (S<Sub />)</>, <>IFF@150mmHg</>];
  const rowLabels2 = ["(mmHg)", "(Hz)", "(Hz/mmHg)", "(Hz)"];
  const col1 = (L + C1) / 2, col2 = (C1 + C2) / 2;
  return (
    <>
      {p.lines.map((y, i) => (
        <div key={"h" + i} style={{ position: "absolute", left: L - lw / 2, top: y - lw / 2, width: R - L, height: lw, background: INK }} />
      ))}
      <div style={{ position: "absolute", left: L - lw / 2, top: T, width: lw, height: B - T, background: INK }} />
      <div style={{ position: "absolute", left: C1 - lw / 2, top: T, width: lw, height: B - T, background: INK }} />
      <div style={{ position: "absolute", left: C2 - lw / 2, top: p.lines[1], width: lw, height: B - p.lines[1], background: INK }} />
      <Txt x={col1} y={p.headerY} size={19}>{p.header[0]}</Txt>
      <Txt x={col2} y={p.headerY} size={19}>{p.header[1]}</Txt>
      <Txt x={1207} y={p.headerY} size={19}>{p.header[2]}</Txt>
      {rowLabels1.map((l, i) => (
        <React.Fragment key={"r" + i}>
          <Txt x={col1} y={p.label1Y[i]} size={19}>{l}</Txt>
          <Txt x={col1} y={p.label2Y[i]} size={19}>{rowLabels2[i]}</Txt>
          <Txt x={col2} y={p.valueY[i]} size={19}>{p.control[i]}</Txt>
          <Txt x={1157} y={p.valueY[i]} size={19} align="left">{p.drug[i]}<Star s={p.sig[i]} /></Txt>
        </React.Fragment>
      ))}
      <Txt x={887} y={p.footY} size={14} align="left">{FOOTNOTES[0]}</Txt>
      <Txt x={972} y={p.footY} size={14} align="left">{FOOTNOTES[1]}</Txt>
      <Txt x={1069} y={p.footY} size={14} align="left">{FOOTNOTES[2]}</Txt>
    </>
  );
}

export default function App() {
  return (
    <div
      style={{
        position: "absolute", left: 0, top: 0, width: 1261, height: 836, overflow: "hidden",
        background: "#fff", fontFamily: FONT, color: INK,
      }}
    >
      <ScatterPanel cfg={PANEL_A} />
      <ScatterPanel cfg={PANEL_B} />
      <ScatterPanel cfg={PANEL_C} />
      <ScatterPanel cfg={PANEL_D} />

      <Txt x={32.5} y={22.5} size={28} italic>A</Txt>
      <Txt x={464} y={23} size={28} italic>B</Txt>
      <Txt x={35} y={456} size={28}>C</Txt>
      <Txt x={463} y={457} size={28} italic>D</Txt>

      <Txt x={244} y={35.5} size={23}>Control</Txt>
      <Txt x={693} y={33.5} size={23}>Retigabine (10μM)</Txt>
      <Txt x={243.5} y={461.5} size={23}>Control</Txt>
      <Txt x={689} y={469.5} size={23}>XE991 (10μM)</Txt>

      <StatTable
        lines={[64, 90.5, 148, 203, 263.5, 323.5]}
        header={T1_HEADER} control={T1_CONTROL} drug={T1_DRUG} sig={T1_SIG}
        headerY={78} label1Y={[110, 161.5, 224.5, 287.5]} label2Y={[133, 189.5, 248.5, 305.5]}
        valueY={[121, 178, 235, 294]} footY={337.5}
      />
      <StatTable
        lines={[495, 522.5, 581, 635, 697, 756]}
        header={T2_HEADER} control={T2_CONTROL} drug={T2_DRUG} sig={T2_SIG}
        headerY={510.5} label1Y={[536, 601, 655, 720.5]} label2Y={[565, 623.5, 681, 740]}
        valueY={[553.5, 609.5, 669.5, 726.5]} footY={771}
      />
    </div>
  );
}
